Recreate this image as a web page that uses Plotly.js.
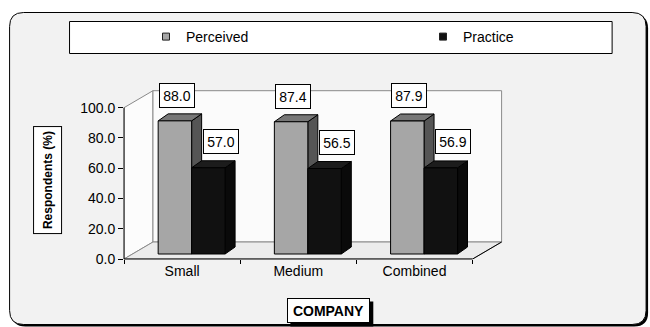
<!DOCTYPE html>
<html><head><meta charset="utf-8">
<script src="https://cdn.plot.ly/plotly-3.0.1.min.js"></script>
<style>html,body{margin:0;padding:0;background:#fff}#chart{width:650px;height:327px}</style>
</head><body><div id="chart"></div>
<script>
// ---- data ----
const categories = ['Small', 'Medium', 'Combined'];
const perceived = [88.0, 87.4, 87.9];
const practice = [57.0, 56.5, 56.9];
const seriesNames = ['Perceived', 'Practice'];
const yTickVals = [0, 20, 40, 60, 80, 100];
const yTickText = ['0.0', '20.0', '40.0', '60.0', '80.0', '100.0'];
const xAxisTitle = 'COMPANY';
const yAxisTitle = 'Respondents (%)';

// ---- geometry / style ----
const W = 650, H = 327;
const L = 124, BOTTOM = 259, TOP = 88;
const PXX = 116.3, PXY = 1.513;
const xRange = [-0.5, 2.77];
const plotW = (xRange[1] - xRange[0]) * PXX;
const plotH = BOTTOM - TOP;
const yRange = [0, plotH / PXY];
const R = W - L - plotW;
const B = H - BOTTOM;
const WDX = 29 / PXX, WDY = 17 / PXY;
const BAR_BASE = 5 / PXY;
const BAR_W = 0.288;
const OFF = [-0.206, 0.082];
const DDX = 10 / PXX, DDY = 7 / PXY;
const FONT = "'Liberation Sans', Arial, sans-serif";
const FRONT = ['#a6a6a6', '#111111'];
const TOPC = ['#777777', '#1c1c1c'];
const SIDE = ['#555555', '#0a0a0a'];
const LBL_SHIFT = [[2, 25.7], [12.5, 26]];
const pX = px => (px - L) / plotW;
const pY = py => (BOTTOM - py) / plotH;

const series = [perceived, practice];
const xIdx = categories.map((c, i) => i);
const yMax = yTickVals[yTickVals.length - 1];
const xMin = -0.5, xMax = categories.length - 0.5;

const shapes = [];
function rr(x0, y0, x1, y1, r) {
  const P = (x, y) => pX(x) + ',' + pY(y);
  return 'M' + P(x0 + r, y0) + ' L' + P(x1 - r, y0) + ' Q' + P(x1, y0) + ' ' + P(x1, y0 + r) +
    ' L' + P(x1, y1 - r) + ' Q' + P(x1, y1) + ' ' + P(x1 - r, y1) +
    ' L' + P(x0 + r, y1) + ' Q' + P(x0, y1) + ' ' + P(x0, y1 - r) +
    ' L' + P(x0, y0 + r) + ' Q' + P(x0, y0) + ' ' + P(x0 + r, y0) + ' Z';
}
// outer frame with shadow
shapes.push({type: 'path', xref: 'paper', yref: 'paper', layer: 'below', path: rr(11.5, 14.5, 648.5, 326.5, 14), fillcolor: '#000', line: {width: 0}});
shapes.push({type: 'path', xref: 'paper', yref: 'paper', layer: 'below', path: rr(9.5, 12.5, 646.5, 324.5, 14), fillcolor: '#f2f2f2', line: {color: '#000', width: 1}});
// legend box
shapes.push({type: 'rect', xref: 'paper', yref: 'paper', layer: 'below', x0: pX(69.5), x1: pX(612.5), y0: pY(21.5), y1: pY(53.5), fillcolor: '#fff', line: {color: '#000', width: 1}});
// x-title shadow
shapes.push({type: 'rect', xref: 'paper', yref: 'paper', layer: 'above', x0: pX(290.5), x1: pX(373.5), y0: pY(301.5), y1: pY(326.5), fillcolor: '#000', line: {width: 0}});

const P = (x, y) => x + ',' + y;
// left wall
shapes.push({type: 'path', xref: 'x', yref: 'y', layer: 'below',
  path: 'M' + P(xMin, 0) + ' L' + P(xMin, yMax) + ' L' + P(xMin + WDX, yMax + WDY) + ' L' + P(xMin + WDX, WDY) + ' Z',
  fillcolor: '#fcfcfc', line: {color: '#8a8a8a', width: 1}});
// back wall
shapes.push({type: 'rect', xref: 'x', yref: 'y', layer: 'below', x0: xMin + WDX, x1: xMax + WDX, y0: WDY, y1: yMax + WDY,
  fillcolor: '#fbfbfb', line: {color: '#8a8a8a', width: 1}});
// floor
shapes.push({type: 'path', xref: 'x', yref: 'y', layer: 'below',
  path: 'M' + P(xMin, 0) + ' L' + P(xMin + WDX, WDY) + ' L' + P(xMax + WDX, WDY) + ' L' + P(xMax, 0) + ' Z',
  fillcolor: '#ececec', line: {color: '#8a8a8a', width: 1}});
shapes.push({type: 'line', xref: 'x', yref: 'y', layer: 'below', x0: xMax, y0: 0, x1: xMax + WDX, y1: WDY, line: {color: '#000', width: 1}});

// bar side and top faces
series.forEach((vals, s) => {
  vals.forEach((v, i) => {
    const x0 = i + OFF[s], x1 = x0 + BAR_W, b = BAR_BASE, t = BAR_BASE + v;
    shapes.push({type: 'path', xref: 'x', yref: 'y', layer: 'below',
      path: 'M' + P(x1, b) + ' L' + P(x1 + DDX, b + DDY) + ' L' + P(x1 + DDX, t + DDY) + ' L' + P(x1, t) + ' Z',
      fillcolor: SIDE[s], line: {color: '#000', width: 1}});
    shapes.push({type: 'path', xref: 'x', yref: 'y', layer: 'below',
      path: 'M' + P(x0, t) + ' L' + P(x1, t) + ' L' + P(x1 + DDX, t + DDY) + ' L' + P(x0 + DDX, t + DDY) + ' Z',
      fillcolor: TOPC[s], line: {color: '#000', width: 1}});
  });
});
// axis lines
shapes.push({type: 'line', xref: 'paper', yref: 'y', x0: 0, x1: 0, y0: 0, y1: yMax, line: {color: '#000', width: 1}});
shapes.push({type: 'line', xref: 'x', yref: 'paper', x0: xMin, x1: xMax, y0: 0, y1: 0, line: {color: '#000', width: 1}});

const traces = [];
series.forEach((vals, s) => {
  traces.push({type: 'bar', x: xIdx, y: vals, base: BAR_BASE, offset: OFF[s], width: BAR_W,
    marker: {color: FRONT[s], line: {color: '#000', width: 1}}, showlegend: false, hoverinfo: 'skip'});
});
series.forEach((vals, s) => {
  traces.push({type: 'scatter', mode: 'markers', x: [null], y: [null], name: seriesNames[s],
    legend: s === 0 ? 'legend' : 'legend2',
    marker: {symbol: 'square', size: 7, color: FRONT[s], line: {color: '#222', width: 1}}, hoverinfo: 'skip'});
});

const annotations = [];
series.forEach((vals, s) => {
  vals.forEach((v, i) => {
    annotations.push({xref: 'x', yref: 'y', x: i + OFF[s] + BAR_W / 2, y: BAR_BASE + v,
      text: v.toFixed(1), showarrow: false, xanchor: 'center', yanchor: 'middle',
      xshift: LBL_SHIFT[s][0], yshift: LBL_SHIFT[s][1],
      bgcolor: '#fff', bordercolor: '#000', borderwidth: 1, borderpad: 2, width: 30, height: 19,
      font: {family: FONT, size: 14, color: '#000'}});
  });
});
// y title
annotations.push({xref: 'paper', yref: 'paper', x: pX(47), y: pY(180), text: '<b>' + yAxisTitle + '</b>',
  textangle: -90, showarrow: false, xanchor: 'center', yanchor: 'middle',
  bgcolor: '#fff', bordercolor: '#000', borderwidth: 1, borderpad: 3, width: 100, height: 21,
  font: {family: FONT, size: 12, color: '#000'}});
// x title
annotations.push({xref: 'paper', yref: 'paper', x: pX(328.7), y: pY(310.8), text: '<b>' + xAxisTitle + '</b>',
  showarrow: false, xanchor: 'center', yanchor: 'middle',
  bgcolor: '#fff', bordercolor: '#000', borderwidth: 1, borderpad: 3, width: 75, height: 17,
  font: {family: FONT, size: 14, color: '#000'}});

const legendBase = {xref: 'container', yref: 'container', xanchor: 'left', yanchor: 'middle', y: 1 - 37 / H,
  bgcolor: 'rgba(0,0,0,0)', borderwidth: 0, font: {family: FONT, size: 14, color: '#000'}};

const layout = {
  width: W, height: H, autosize: false,
  margin: {l: L, r: R, t: TOP, b: B, pad: 0, autoexpand: false},
  paper_bgcolor: '#fff', plot_bgcolor: 'rgba(0,0,0,0)',
  barmode: 'overlay', showlegend: true,
  font: {family: FONT, size: 14, color: '#000'},
  xaxis: {range: xRange, tickmode: 'array', tickvals: xIdx, ticktext: categories, ticks: '', tickangle: 0,
    showline: false, showgrid: false, zeroline: false, fixedrange: true, automargin: false, ticklabelstandoff: 2,
    tickfont: {family: FONT, size: 14, color: '#000'},
    minor: {tickmode: 'array', tickvals: [-0.5, 0.5, 1.5, 2.5], ticks: 'outside', ticklen: 4, tickcolor: '#000', tickwidth: 1, showgrid: false}},
  yaxis: {range: yRange, tickmode: 'array', tickvals: yTickVals, ticktext: yTickText, ticks: 'outside', ticklen: 5,
    tickcolor: '#000', tickwidth: 1, showline: false, showgrid: false, zeroline: false, fixedrange: true, automargin: false,
    tickfont: {family: FONT, size: 14, color: '#000'}},
  legend: Object.assign({}, legendBase, {x: (166 - 20) / W}),
  legend2: Object.assign({}, legendBase, {x: (443 - 20) / W}),
  shapes: shapes,
  annotations: annotations
};

Plotly.newPlot('chart', traces, layout, {displayModeBar: false, staticPlot: true});
</script></body></html>
